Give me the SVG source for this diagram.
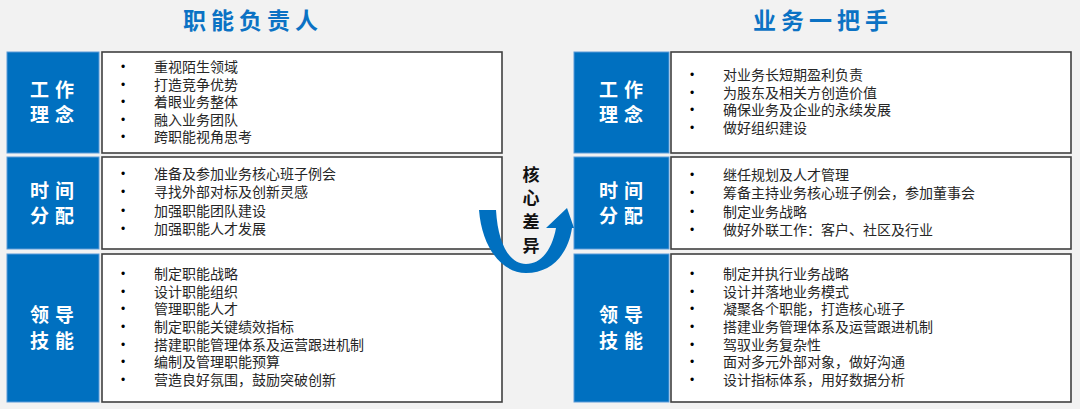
<svg xmlns="http://www.w3.org/2000/svg" width="1080" height="409" viewBox="0 0 1080 409">
<style>
.bg{fill:#F2F2F2}
.title{font-family:"Noto Sans CJK SC","Noto Sans",sans-serif;font-size:23px;font-weight:bold;fill:#0B72C4;letter-spacing:5px;text-anchor:middle}
.lab{fill:#0070C0;stroke:#5A9AD8;stroke-width:1}
.box{fill:#FFFFFF;stroke:#404040;stroke-width:1.6}
.lt{font-family:"Noto Sans CJK SC","Noto Sans",sans-serif;font-size:19px;font-weight:bold;fill:#FFFFFF;letter-spacing:6px;text-anchor:middle}
.it{font-family:"Noto Sans CJK SC","Noto Sans",sans-serif;font-size:14px;fill:#262626}
.bu{font-family:"Liberation Sans",sans-serif;font-size:12px;fill:#000000;text-anchor:middle}
.ct{font-family:"Noto Sans CJK SC","Noto Sans",sans-serif;font-size:17px;font-weight:bold;fill:#111111;text-anchor:middle}
.arr{fill:#0070C0}
</style>
<rect class="bg" x="0" y="0" width="1080" height="409"/>
<text class="title" x="253" y="29">职能负责人</text>
<text class="title" x="823" y="29">业务一把手</text>

<g id="left-row1">
<rect class="lab" x="7" y="52" width="92" height="101"/>
<text class="lt" x="55" y="97">工作</text>
<text class="lt" x="55" y="122">理念</text>
<rect class="box" x="102" y="52" width="400" height="101"/>
<g class="bu"><text x="123" y="71">•</text><text x="123" y="88.5">•</text><text x="123" y="106">•</text><text x="123" y="123.5">•</text><text x="123" y="141">•</text></g>
<text class="it" x="154" y="72">重视陌生领域</text>
<text class="it" x="154" y="89.5">打造竞争优势</text>
<text class="it" x="154" y="107">着眼业务整体</text>
<text class="it" x="154" y="124.5">融入业务团队</text>
<text class="it" x="154" y="142">跨职能视角思考</text>
</g>

<g id="left-row2">
<rect class="lab" x="7" y="157" width="92" height="92"/>
<text class="lt" x="55" y="198">时间</text>
<text class="lt" x="55" y="223">分配</text>
<rect class="box" x="102" y="157" width="400" height="92"/>
<g class="bu"><text x="123" y="178">•</text><text x="123" y="196.3">•</text><text x="123" y="214.6">•</text><text x="123" y="233">•</text></g>
<text class="it" x="154" y="179">准备及参加业务核心班子例会</text>
<text class="it" x="154" y="197.3">寻找外部对标及创新灵感</text>
<text class="it" x="154" y="215.6">加强职能团队建设</text>
<text class="it" x="154" y="234">加强职能人才发展</text>
</g>

<g id="left-row3">
<rect class="lab" x="7" y="254" width="92" height="148"/>
<text class="lt" x="55" y="322">领导</text>
<text class="lt" x="55" y="348">技能</text>
<rect class="box" x="102" y="254" width="400" height="148"/>
<g class="bu"><text x="123" y="278">•</text><text x="123" y="295.7">•</text><text x="123" y="313.4">•</text><text x="123" y="331">•</text><text x="123" y="348.7">•</text><text x="123" y="366.4">•</text><text x="123" y="384">•</text></g>
<text class="it" x="154" y="279">制定职能战略</text>
<text class="it" x="154" y="296.7">设计职能组织</text>
<text class="it" x="154" y="314.4">管理职能人才</text>
<text class="it" x="154" y="332">制定职能关键绩效指标</text>
<text class="it" x="154" y="349.7">搭建职能管理体系及运营跟进机制</text>
<text class="it" x="154" y="367.4">编制及管理职能预算</text>
<text class="it" x="154" y="385">营造良好氛围，鼓励突破创新</text>
</g>

<g id="right-row1">
<rect class="lab" x="574" y="52" width="95" height="101"/>
<text class="lt" x="624" y="97">工作</text>
<text class="lt" x="624" y="122">理念</text>
<rect class="box" x="671" y="52" width="400" height="101"/>
<g class="bu"><text x="692" y="79">•</text><text x="692" y="96.5">•</text><text x="692" y="114">•</text><text x="692" y="131.5">•</text></g>
<text class="it" x="723" y="80">对业务长短期盈利负责</text>
<text class="it" x="723" y="97.5">为股东及相关方创造价值</text>
<text class="it" x="723" y="115">确保业务及企业的永续发展</text>
<text class="it" x="723" y="132.5">做好组织建设</text>
</g>

<g id="right-row2">
<rect class="lab" x="574" y="157" width="95" height="92"/>
<text class="lt" x="624" y="198">时间</text>
<text class="lt" x="624" y="223">分配</text>
<rect class="box" x="671" y="157" width="400" height="92"/>
<g class="bu"><text x="692" y="179">•</text><text x="692" y="197.3">•</text><text x="692" y="215.6">•</text><text x="692" y="234">•</text></g>
<text class="it" x="723" y="180">继任规划及人才管理</text>
<text class="it" x="723" y="198.3">筹备主持业务核心班子例会，参加董事会</text>
<text class="it" x="723" y="216.6">制定业务战略</text>
<text class="it" x="723" y="235">做好外联工作：客户、社区及行业</text>
</g>

<g id="right-row3">
<rect class="lab" x="574" y="254" width="95" height="148"/>
<text class="lt" x="624" y="322">领导</text>
<text class="lt" x="624" y="348">技能</text>
<rect class="box" x="671" y="254" width="400" height="148"/>
<g class="bu"><text x="692" y="278">•</text><text x="692" y="295.7">•</text><text x="692" y="313.4">•</text><text x="692" y="331">•</text><text x="692" y="348.7">•</text><text x="692" y="366.4">•</text><text x="692" y="384">•</text></g>
<text class="it" x="723" y="279">制定并执行业务战略</text>
<text class="it" x="723" y="296.7">设计并落地业务模式</text>
<text class="it" x="723" y="314.4">凝聚各个职能，打造核心班子</text>
<text class="it" x="723" y="332">搭建业务管理体系及运营跟进机制</text>
<text class="it" x="723" y="349.7">驾驭业务复杂性</text>
<text class="it" x="723" y="367.4">面对多元外部对象，做好沟通</text>
<text class="it" x="723" y="385">设计指标体系，用好数据分析</text>
</g>

<g id="connectors">
<path class="arr" d="M479,210 C482,248 502,273 526,273 C552,273 568,254 572,228 L574,228 L567,208 L546,228 L556,228 C552,250 541,264 526,264 C510,264 498,245 496,210 Z"/>
</g>

<g id="center-label">
<text class="ct" x="531" y="181">核</text>
<text class="ct" x="531" y="204">心</text>
<text class="ct" x="531" y="228">差</text>
<text class="ct" x="531" y="252">异</text>
</g>
</svg>
